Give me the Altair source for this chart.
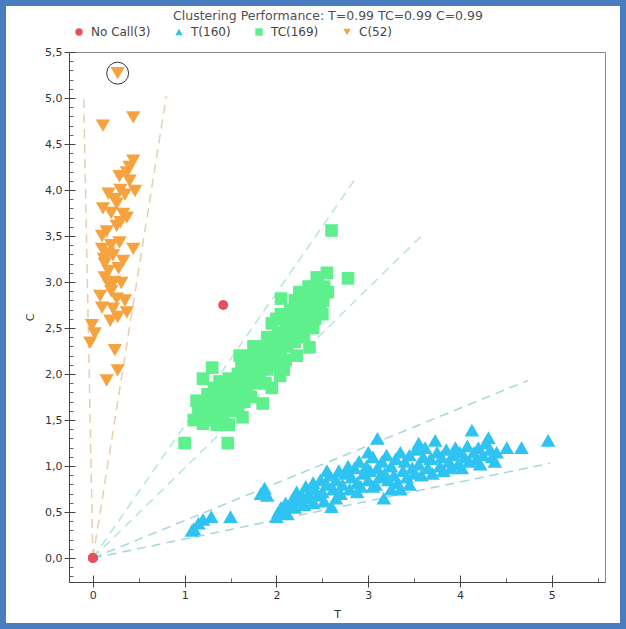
import altair as alt
import pandas as pd

title_text = "Clustering Performance: T=0.99 TC=0.99 C=0.99"
classes = ["No Call(3)", "T(160)", "TC(169)", "C(52)"]
colors = ["#e5525e", "#2fc3f2", "#5ff08e", "#f6a23f"]
shapes = ["circle", "triangle-up", "square", "triangle-down"]

# No Call
nc_x = [0.0, 0.0, 1.42]
nc_y = [0.0, 0.0, 2.75]

# C cluster
c_x = [0.11, 0.44, 0.44, 0.37, 0.29, 0.40, 0.46, 0.17, 0.11, 0.26, 0.33, 0.37, 0.26,
       0.10, 0.29, 0.44, 0.10, 0.17, 0.22, 0.33, 0.13, 0.17, 0.13, 0.17, 0.31, 0.26,
       0.10, 0.22, 0.37, 0.19, -0.01, 0.02, -0.03, 0.24, 0.27, 0.15, 0.27,
       0.20, 0.15, 0.28, 0.23, 0.20, 0.30, 0.24, 0.35, 0.40, 0.12, 0.20, 0.27, 0.08,
       0.30, 0.35]
c_y = [4.70, 4.79, 4.32, 4.19, 4.15, 4.10, 3.99, 3.96, 3.80, 3.85, 3.74, 3.70, 3.61,
       3.50, 3.43, 3.36, 3.36, 3.31, 3.29, 3.23, 3.20, 3.12, 3.05, 2.98, 2.99, 2.82,
       2.72, 2.71, 2.67, 2.58, 2.53, 2.44, 2.34, 2.26, 2.04, 1.93, 5.27,
       3.40, 3.55, 3.15, 3.00, 2.90, 3.65, 3.90, 3.95, 4.25, 3.25, 3.75, 2.62, 2.85,
       4.00, 2.80]

# TC cluster
tc_x = [1.00, 1.47, 1.13, 1.20, 1.20, 1.30, 1.15, 1.22, 1.28, 1.35, 1.25, 1.32, 1.40,
        1.45, 1.38, 1.42, 1.18, 1.28, 1.36, 1.50, 1.48, 1.52, 1.55, 1.63, 1.58, 1.60,
        1.65, 1.62, 1.68, 1.70, 1.72, 1.75, 1.78, 1.80, 1.85, 1.82, 1.85, 1.88, 1.90,
        1.92, 1.95, 1.97, 2.00, 2.02, 2.04, 2.05, 2.05, 2.08, 2.10, 2.12, 2.15, 2.18,
        2.20, 2.22, 2.25, 2.25, 2.28, 2.30, 2.32, 2.35, 2.36, 2.38, 2.40, 2.42, 2.44,
        2.45, 2.48, 2.50, 2.51, 2.52, 2.55, 2.56, 2.60, 2.78, 1.75, 1.68, 1.95, 2.15,
        2.20, 1.88, 2.00, 2.10, 1.58, 1.42, 1.30, 2.45, 2.35, 2.30, 2.05,
        1.10, 1.25, 1.35, 1.45, 1.55, 1.72, 1.78, 1.90, 2.00, 2.12, 2.28, 2.40, 2.48,
        2.38, 1.60, 1.65, 1.95, 2.08, 2.22, 1.48]
tc_y = [1.25, 1.25, 1.71, 1.46, 1.95, 2.07, 1.60, 1.55, 1.62, 1.70, 1.78, 1.85, 1.65,
        1.75, 1.92, 1.82, 1.68, 1.50, 1.58, 1.80, 1.95, 1.70, 1.88, 1.53, 2.00, 1.80,
        1.95, 2.10, 1.85, 2.05, 2.20, 1.95, 2.10, 2.25, 1.68, 2.00, 2.15, 2.30, 2.05,
        2.20, 2.40, 2.15, 2.30, 2.45, 1.98, 2.82, 2.20, 2.38, 2.55, 2.30, 2.45, 2.60,
        2.35, 2.52, 2.70, 2.89, 2.45, 2.60, 2.75, 2.55, 2.29, 2.68, 2.82, 2.60, 3.05,
        2.72, 2.90, 2.65, 2.80, 2.95, 3.10, 2.89, 3.56, 3.04, 2.30, 2.15, 2.55, 2.70,
        2.80, 1.90, 2.10, 2.15, 1.65, 1.55, 1.78, 3.00, 2.95, 2.40, 2.65,
        1.50, 1.65, 1.45, 1.65, 1.60, 1.75, 1.90, 2.40, 2.60, 2.50, 2.85, 2.50, 2.75,
        2.95, 2.20, 1.70, 1.85, 2.05, 2.20, 1.45]

# T cluster
t_x = [1.10, 1.15, 1.20, 1.29, 1.08, 1.50, 1.83, 1.87, 1.90,
       2.02, 2.05, 2.08, 2.10, 2.12, 2.15, 2.18, 2.20, 2.22, 2.25, 2.28, 2.30, 2.32,
       2.35, 2.38, 2.40, 2.42, 2.45, 2.48, 2.50, 2.52, 2.55, 2.58, 2.60, 2.62, 2.65,
       2.68, 2.70, 2.72, 2.75, 2.78, 2.80, 2.82, 2.85, 2.88, 2.90, 2.92, 2.95, 2.98,
       3.00, 3.02, 3.05, 3.08, 3.10, 3.10, 3.12, 3.15, 3.17, 3.18, 3.20, 3.22, 3.25,
       3.28, 3.30, 3.32, 3.35, 3.38, 3.40, 3.42, 3.45, 3.48, 3.50, 3.52, 3.55, 3.58,
       3.60, 3.62, 3.65, 3.68, 3.70, 3.73, 3.75, 3.78, 3.80, 3.82, 3.85, 3.88, 3.90,
       3.92, 3.95, 3.98, 4.00, 4.02, 4.05, 4.08, 4.10, 4.13, 4.15, 4.18, 4.20, 4.22,
       4.25, 4.28, 4.31, 4.33, 4.35, 4.38, 4.40, 4.51, 4.67, 4.96,
       2.40, 2.65, 2.88, 3.05, 3.25, 3.45, 2.00, 2.55, 3.00, 3.55, 3.35]
t_y = [0.32, 0.38, 0.42, 0.45, 0.30, 0.45, 0.70, 0.76, 0.68,
       0.50, 0.55, 0.52, 0.60, 0.48, 0.58, 0.65, 0.55, 0.72, 0.62, 0.68, 0.58, 0.78,
       0.70, 0.65, 0.82, 0.75, 0.68, 0.85, 0.72, 0.62, 0.80, 0.90, 0.56, 0.75, 0.85,
       0.95, 0.70, 0.80, 0.92, 1.00, 0.75, 0.88, 0.98, 0.82, 1.05, 0.78, 0.92, 1.00,
       0.85, 0.95, 1.10, 0.80, 1.30, 0.98, 0.88, 1.05, 0.65, 0.92, 1.12, 0.85, 1.00,
       0.90, 1.08, 0.82, 1.15, 0.95, 1.05, 0.88, 1.12, 0.98, 0.92, 1.18, 1.02, 0.90,
       1.10, 1.20, 0.98, 1.08, 0.92, 1.28, 1.15, 1.00, 1.10, 0.95, 1.18, 1.05, 0.98,
       1.12, 1.20, 1.02, 1.15, 0.98, 1.10, 1.22, 1.05, 1.39, 1.15, 1.08, 1.20, 1.02,
       1.12, 1.25, 1.31, 1.18, 1.10, 1.05, 1.15, 1.20, 1.20, 1.28,
       0.60, 0.65, 0.72, 0.78, 0.75, 0.80, 0.45, 0.95, 1.15, 1.25, 0.75]

# dashed boundary lines from origin
seg_x_end = [-0.10, 0.80, 2.88, 3.62, 4.74, 4.98]
seg_y_end = [5.02, 5.02, 4.15, 3.54, 1.93, 1.03]
seg_colors = ["#e6cfae", "#e6cfae", "#b3e6dc", "#b3e6dc", "#a3d6dc", "#a3d6dc"]

# circled point
mark_x = [0.27]
mark_y = [5.27]

rows = []
for name, xs_, ys_ in [(classes[0], nc_x, nc_y), (classes[1], t_x, t_y),
                       (classes[2], tc_x, tc_y), (classes[3], c_x, c_y)]:
    for a, b in zip(xs_, ys_):
        rows.append({"T": a, "C": b, "cls": name})
pts_df = pd.DataFrame(rows)
line_df = pd.DataFrame({"x0": [0.0] * len(seg_x_end), "y0": [0.0] * len(seg_x_end),
                        "x1": seg_x_end, "y1": seg_y_end, "col": seg_colors})
mark_df = pd.DataFrame({"T": mark_x, "C": mark_y})

xs = alt.Scale(domain=[-0.26, 5.58], nice=False, zero=False)
ys = alt.Scale(domain=[-0.26, 5.5], nice=False, zero=False)
font = "DejaVu Sans"

x_major = [0, 1, 2, 3, 4, 5]
y_major = [0, 0.5, 1, 1.5, 2, 2.5, 3, 3.5, 4, 4.5, 5, 5.5]
x_minor = [0.5, 1.5, 2.5, 3.5, 4.5, 5.5]
y_minor = [round(i * 0.1, 1) for i in range(-2, 55) if i % 5 != 0]

x_axis = alt.Axis(values=x_major, format="d", title="T", orient="bottom", tickSize=5,
                  grid=False, labelFontSize=11, titleFontSize=11, titleFontWeight="normal",
                  labelColor="#333", titleColor="#333", domainColor="#444",
                  tickColor="#444", titlePadding=8, labelFont=font, titleFont=font)
y_axis = alt.Axis(values=y_major, labelExpr="replace(format(datum.value, '.1f'), '.', ',')",
                  title="C", orient="left", tickSize=5, grid=False, labelFontSize=11,
                  titleFontSize=11, titleFontWeight="normal", labelColor="#333",
                  titleColor="#333", domainColor="#444", tickColor="#444", titlePadding=9,
                  labelFont=font, titleFont=font)
x_minor_axis = alt.Axis(values=x_minor, orient="bottom", labels=False, domain=False,
                        tickSize=4, offset=-4, tickColor="#666", grid=False, title=None)
y_minor_axis = alt.Axis(values=y_minor, orient="left", labels=False, domain=False,
                        tickSize=4, offset=-4, tickColor="#666", grid=False, title=None)
x_cross_axis = alt.Axis(values=x_major, orient="bottom", labels=False, domain=False,
                        tickSize=7, offset=-7, tickColor="#444", grid=False, title=None)
y_cross_axis = alt.Axis(values=y_major, orient="left", labels=False, domain=False,
                        tickSize=6, offset=-6, tickColor="#444", grid=False, title=None)

lines = alt.Chart(line_df).mark_rule(strokeDash=[9, 6], strokeWidth=1.5).encode(
    x=alt.X("x0:Q", scale=xs, axis=x_minor_axis),
    y=alt.Y("y0:Q", scale=ys, axis=y_minor_axis),
    x2="x1:Q", y2="y1:Q",
    stroke=alt.Stroke("col:N", scale=None),
)

legend = alt.Legend(title=None, orient="none", direction="horizontal", legendX=4,
                    legendY=-26, labelFontSize=12, labelFont=font, labelColor="#444",
                    symbolSize=55, columnPadding=22, labelOffset=6, symbolStrokeWidth=0)

color_enc = alt.Color("cls:N", scale=alt.Scale(domain=classes, range=colors), legend=legend)
shape_enc = alt.Shape("cls:N", scale=alt.Scale(domain=classes, range=shapes), legend=legend)

base_pts = alt.Chart(pts_df)

pts_t = base_pts.transform_filter(alt.datum.cls == classes[1]).mark_point(
    filled=True, opacity=1, size=215).encode(
    x=alt.X("T:Q", scale=xs, axis=x_axis),
    y=alt.Y("C:Q", scale=ys, axis=y_axis),
    color=color_enc, shape=shape_enc,
)
pts_tc = base_pts.transform_filter(alt.datum.cls == classes[2]).mark_point(
    filled=True, opacity=1, size=160).encode(
    x=alt.X("T:Q", scale=xs, axis=None),
    y=alt.Y("C:Q", scale=ys, axis=None),
    color=color_enc, shape=shape_enc,
)
pts_c = base_pts.transform_filter(alt.datum.cls == classes[3]).mark_point(
    filled=True, opacity=1, size=205).encode(
    x=alt.X("T:Q", scale=xs, axis=None),
    y=alt.Y("C:Q", scale=ys, axis=None),
    color=color_enc, shape=shape_enc,
)
pts_nc = base_pts.transform_filter(alt.datum.cls == classes[0]).mark_point(
    filled=True, opacity=1, size=100).encode(
    x=alt.X("T:Q", scale=xs, axis=None),
    y=alt.Y("C:Q", scale=ys, axis=None),
    color=color_enc, shape=shape_enc,
)

ring = alt.Chart(mark_df).mark_point(shape="circle", filled=False, size=480,
                                     stroke="#333", strokeWidth=1, opacity=1).encode(
    x=alt.X("T:Q", scale=xs, axis=x_cross_axis),
    y=alt.Y("C:Q", scale=ys, axis=y_cross_axis),
)

frame = alt.Chart(pd.DataFrame({"k": [0]})).mark_rect(
    fillOpacity=0, stroke="#4a7cc0", strokeWidth=6).encode(
    x=alt.value(-66), x2=alt.value(554), y=alt.value(-49), y2=alt.value(574))

chart = alt.layer(lines, pts_t, pts_tc, pts_c, pts_nc, ring, frame).resolve_axis(
    x="independent", y="independent"
).properties(
    width=536, height=530,
    autosize=alt.AutoSizeParams(type="none"),
    padding={"left": 69, "top": 52, "right": 21, "bottom": 47},
    title=alt.TitleParams(title_text, fontSize=12.5, fontWeight="normal", color="#505050",
                          font=font, anchor="middle", frame="group", offset=-22, dx=-9),
    background="white",
).configure_view(stroke="#888", strokeWidth=1)

chart.save("out.html", embed_options={"renderer": "svg", "actions": False})
